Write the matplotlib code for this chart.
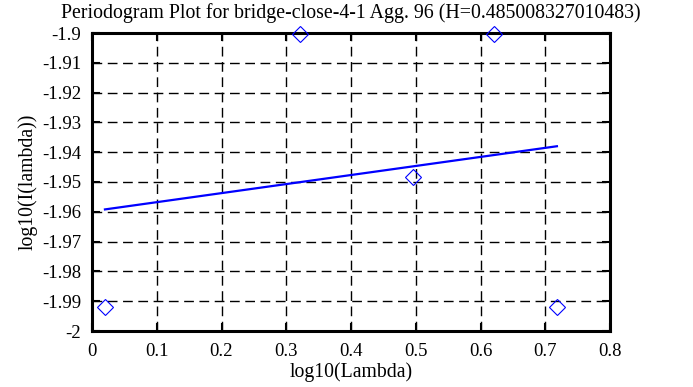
import matplotlib
matplotlib.use("Agg")
import matplotlib.pyplot as plt

x_pts = [0.020, 0.321, 0.496, 0.621, 0.718]
y_pts = [-1.9918, -1.9002, -1.9482, -1.9002, -1.9918]
fit_x = [0.020, 0.718]
fit_y = [-1.9592, -1.9380]
title = "Periodogram Plot for bridge-close-4-1 Agg. 96 (H=0.485008327010483)"
xticks = [0, 0.1, 0.2, 0.3, 0.4, 0.5, 0.6, 0.7, 0.8]
xlabels = ["0", "0.1", "0.2", "0.3", "0.4", "0.5", "0.6", "0.7", "0.8"]
yticks = [-2, -1.99, -1.98, -1.97, -1.96, -1.95, -1.94, -1.93, -1.92, -1.91, -1.9]
ylabels = ["-2", "-1.99", "-1.98", "-1.97", "-1.96", "-1.95", "-1.94", "-1.93", "-1.92", "-1.91", "-1.9"]

plt.rcParams['font.family'] = ['Liberation Serif', 'DejaVu Serif']
fig = plt.figure(figsize=(6.93, 3.87), dpi=100)
ax = fig.add_axes([92/693, 1-331/387, (610-92)/693, (331-33)/387])
ax.plot(fit_x, fit_y, color='#0000ff', lw=1.6, zorder=3)
ax.plot(x_pts, y_pts, linestyle='none', marker='D', markersize=8.5,
        markerfacecolor='none', markeredgecolor='#0000ff', markeredgewidth=0.8,
        zorder=4, clip_on=False)
ax.set_xlim(0, 0.8)
ax.set_ylim(-2, -1.9)
ax.set_xticks(xticks)
ax.set_xticklabels(xlabels)
ax.set_yticks(yticks)
ax.set_yticklabels(ylabels)
ax.grid(True, color='black', linestyle=(0, (7, 4)), linewidth=1)
ax.tick_params(direction='in', top=True, right=True, length=6, width=1.5,
               labelsize=13.5)
ax.tick_params(axis='x', pad=9)
ax.tick_params(axis='y', pad=8)
for s in ax.spines.values():
    s.set_linewidth(2.2)
ax.set_title(title, fontsize=14.3, pad=11)
ax.set_xlabel("log10(Lambda)", fontsize=14.2, labelpad=1)
ax.set_ylabel("log10(I(lambda))", fontsize=14.2, labelpad=3)
fig.savefig("out.png", dpi=100)
